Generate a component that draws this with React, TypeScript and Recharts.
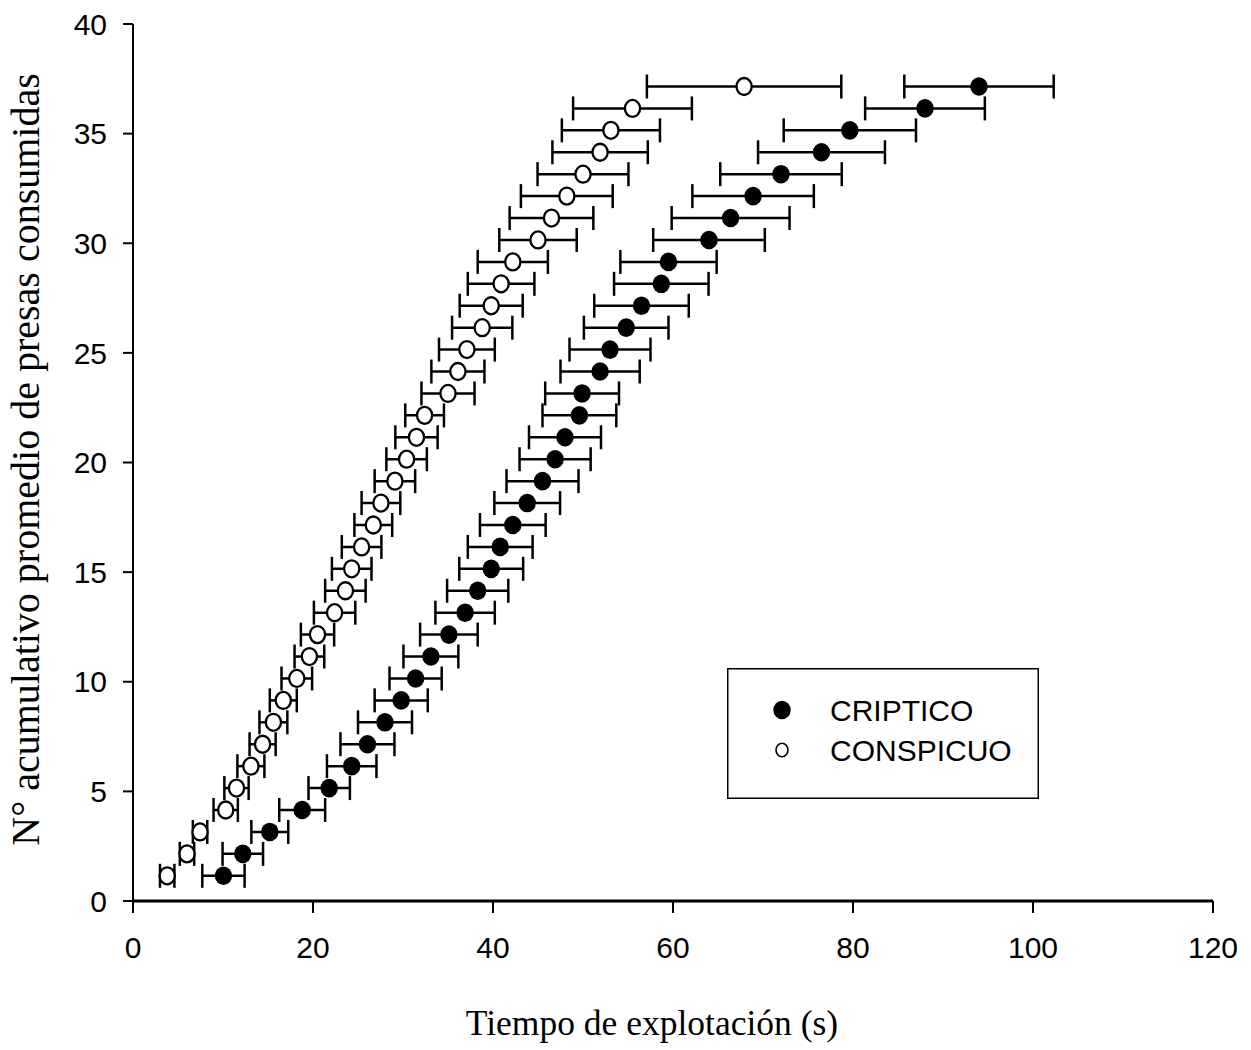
import React from 'react';
import { ScatterChart, Scatter, XAxis, YAxis, ErrorBar, Legend, Label } from 'recharts';

// Cumulative number of prey consumed (y) for each step
const preyCount = [
  1.15, 2.15, 3.15, 4.15, 5.15, 6.15, 7.15, 8.15, 9.15, 10.15,
  11.15, 12.15, 13.15, 14.15, 15.15, 16.15, 17.15, 18.15, 19.15, 20.15,
  21.15, 22.15, 23.15, 24.15, 25.15, 26.15, 27.15, 28.15, 29.15, 30.15,
  31.15, 32.15, 33.15, 34.15, 35.15, 36.15, 37.15,
];

// CRIPTICO: mean exploitation time (s) and its error
const cripticoX = [
  10.05, 12.2, 15.2, 18.8, 21.8, 24.3, 26.05, 28.0, 29.8, 31.4,
  33.1, 35.1, 36.9, 38.3, 39.8, 40.8, 42.2, 43.8, 45.5, 46.9,
  48.0, 49.6, 49.9, 51.9, 53.0, 54.8, 56.5, 58.7, 59.5, 64.0,
  66.4, 68.9, 72.0, 76.5, 79.65, 88.0, 94.0,
];
const cripticoErr = [
  2.35, 2.25, 2.05, 2.55, 2.3, 2.75, 3.0, 3.0, 2.95, 2.9,
  3.05, 3.2, 3.3, 3.4, 3.55, 3.6, 3.65, 3.65, 4.0, 3.95,
  4.0, 4.1, 4.1, 4.4, 4.5, 4.7, 5.25, 5.25, 5.35, 6.2,
  6.55, 6.75, 6.75, 7.05, 7.35, 6.65, 8.3,
];

// CONSPICUO: mean exploitation time (s) and its error
const conspicuoX = [
  3.8, 6.0, 7.45, 10.3, 11.5, 13.1, 14.4, 15.6, 16.7, 18.2,
  19.6, 20.5, 22.4, 23.6, 24.3, 25.4, 26.7, 27.55, 29.1, 30.4,
  31.5, 32.4, 35.0, 36.1, 37.1, 38.8, 39.8, 40.9, 42.2, 45.0,
  46.5, 48.2, 50.0, 51.9, 53.1, 55.5, 67.9,
];
const conspicuoErr = [
  0.8, 0.8, 0.8, 1.35, 1.35, 1.5, 1.45, 1.55, 1.5, 1.7,
  1.65, 1.85, 2.3, 2.25, 2.2, 2.2, 2.1, 2.15, 2.25, 2.25,
  2.35, 2.15, 2.95, 2.95, 3.1, 3.35, 3.5, 3.7, 3.9, 4.3,
  4.65, 5.1, 5.05, 5.3, 5.45, 6.6, 10.8,
];

const xTicks = [0, 20, 40, 60, 80, 100, 120];
const yTicks = [0, 5, 10, 15, 20, 25, 30, 35, 40];
const seriesNames = ['CRIPTICO', 'CONSPICUO'];
const xTitle = 'Tiempo de explotación (s)';
const yTitle = 'N° acumulativo promedio de presas consumidas';

const cripticoData = preyCount.map((y, i) => ({ x: cripticoX[i], y, err: cripticoErr[i] }));
const conspicuoData = preyCount.map((y, i) => ({ x: conspicuoX[i], y, err: conspicuoErr[i] }));

const SANS = "'Liberation Sans', Arial, Helvetica, sans-serif";
const SERIF = "'Liberation Serif', 'Times New Roman', serif";

const FilledDot = (props: any) => {
  const { cx, cy } = props;
  if (cx == null || cy == null) return null;
  return <ellipse cx={cx} cy={cy} rx={8.7} ry={9.3} fill="#000" />;
};

const OpenDot = (props: any) => {
  const { cx, cy } = props;
  if (cx == null || cy == null) return null;
  return <ellipse cx={cx} cy={cy} rx={7.6} ry={8.5} fill="#fff" stroke="#000" strokeWidth={2.3} />;
};

const XTitle = (props: any) => {
  const vb = props.viewBox || { x: 133, y: 901, width: 1080, height: 149 };
  return (
    <text
      x={vb.x + vb.width / 2 - 21}
      y={vb.y + 134}
      textAnchor="middle"
      fontFamily={SERIF}
      fontSize={35.5}
      fill="#000"
    >
      {xTitle}
    </text>
  );
};

const YTitle = (props: any) => {
  const vb = props.viewBox || { x: 0, y: 24, width: 133, height: 877 };
  const cx = 39;
  const cy = vb.y + vb.height / 2 - 3;
  return (
    <text
      x={cx}
      y={cy}
      textAnchor="middle"
      fontFamily={SERIF}
      fontSize={40}
      fill="#000"
      transform={`rotate(-90, ${cx}, ${cy})`}
    >
      {yTitle}
    </text>
  );
};

const renderLegend = () => {
  return (
    <svg width={312} height={131} style={{ display: 'block' }}>
      <rect x={0.75} y={0.75} width={310.5} height={129.5} fill="#fff" stroke="#000" strokeWidth={1.5} />
      {seriesNames.map((name, i) => {
        const cy = 42 + i * 40;
        return (
          <g key={name}>
            {i === 0 ? (
              <ellipse cx={55} cy={cy} rx={8.7} ry={9.3} fill="#000" />
            ) : (
              <ellipse cx={55} cy={cy} rx={6} ry={6.8} fill="#fff" stroke="#000" strokeWidth={1.6} />
            )}
            <text x={103} y={cy + 11} fontFamily={SANS} fontSize={30} fill="#000">
              {name}
            </text>
          </g>
        );
      })}
    </svg>
  );
};

export default function App() {
  return (
    <div style={{ position: 'absolute', left: 0, top: 0, width: 1251, height: 1050, background: '#fff' }}>
      <ScatterChart
        width={1251}
        height={1050}
        margin={{ top: 24, right: 38, left: 0, bottom: 0 }}
      >
        <XAxis
          type="number"
          dataKey="x"
          domain={[0, 120]}
          ticks={xTicks}
          interval={0}
          height={149}
          tickSize={12}
          tickMargin={24}
          axisLine={{ stroke: '#000', strokeWidth: 3 }}
          tickLine={{ stroke: '#000', strokeWidth: 2 }}
          tick={{ fill: '#000', fontSize: 30, fontFamily: SANS }}
          allowDataOverflow
        >
          <Label content={<XTitle />} />
        </XAxis>
        <YAxis
          type="number"
          dataKey="y"
          domain={[0, 40]}
          ticks={yTicks}
          interval={0}
          width={133}
          tickSize={10}
          tickMargin={16}
          axisLine={{ stroke: '#000', strokeWidth: 2 }}
          tickLine={{ stroke: '#000', strokeWidth: 2 }}
          tick={{ fill: '#000', fontSize: 30, fontFamily: SANS }}
          allowDataOverflow
        >
          <Label content={<YTitle />} />
        </YAxis>
        <Legend
          layout="horizontal"
          verticalAlign="middle"
          align="center"
          content={renderLegend}
          wrapperStyle={{ position: 'absolute', left: 727, top: 668, width: 312, height: 131 }}
        />
        <Scatter
          name={seriesNames[0]}
          data={cripticoData}
          fill="#000"
          shape={FilledDot}
          isAnimationActive={false}
          legendType="circle"
        >
          <ErrorBar dataKey="err" direction="x" width={12} stroke="#000" strokeWidth={2.5} />
        </Scatter>
        <Scatter
          name={seriesNames[1]}
          data={conspicuoData}
          fill="#fff"
          shape={OpenDot}
          isAnimationActive={false}
          legendType="circle"
        >
          <ErrorBar dataKey="err" direction="x" width={12} stroke="#000" strokeWidth={2.5} />
        </Scatter>
      </ScatterChart>
    </div>
  );
}
